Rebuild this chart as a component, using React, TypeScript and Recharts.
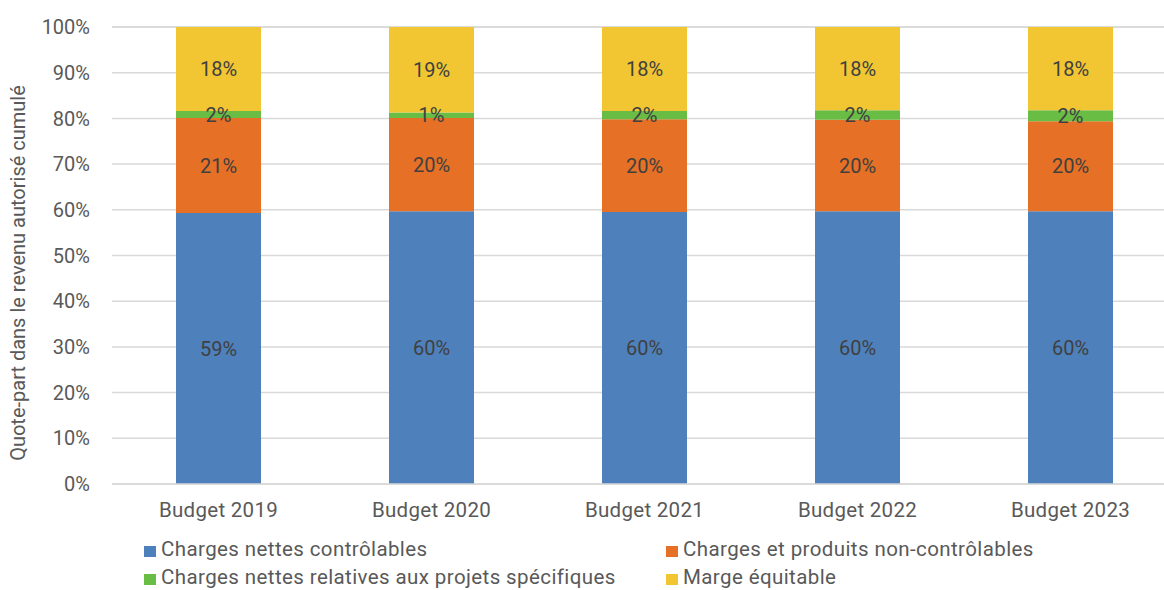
import React from 'react';
import { BarChart, Bar, XAxis, YAxis, CartesianGrid, Legend, LabelList } from 'recharts';

const categories = ['Budget 2019', 'Budget 2020', 'Budget 2021', 'Budget 2022', 'Budget 2023'];
const controlables = [59.3, 59.7, 59.5, 59.7, 59.7];
const nonControlables = [20.8, 20.4, 20.3, 20.0, 19.7];
const projets = [1.5, 1.2, 1.8, 2.1, 2.4];
const marge = [18.4, 18.7, 18.4, 18.2, 18.2];
const yTicks = [0, 10, 20, 30, 40, 50, 60, 70, 80, 90, 100];

const series = [
  { key: 'controlables', name: 'Charges nettes contrôlables', color: '#4e80bc' },
  { key: 'nonControlables', name: 'Charges et produits non-contrôlables', color: '#e57026' },
  { key: 'projets', name: 'Charges nettes relatives aux projets spécifiques', color: '#69bd45' },
  { key: 'marge', name: 'Marge équitable', color: '#f1c632' },
];

const data = categories.map((c, i) => ({
  category: c,
  controlables: controlables[i],
  nonControlables: nonControlables[i],
  projets: projets[i],
  marge: marge[i],
}));

const FONT = 'Roboto, sans-serif';
const TEXT = '#595959';

const XTick = (props: any) => {
  const { x, y, payload } = props;
  return (
    <text x={x} y={y + 33} textAnchor="middle" fill={TEXT} fontSize={20.5} letterSpacing={0.3} fontFamily={FONT}>
      {payload.value}
    </text>
  );
};

const renderLegend = () => {
  const pos = [
    { left: 144, top: 13 },
    { left: 666, top: 13 },
    { left: 144, top: 41 },
    { left: 666, top: 41 },
  ];
  return (
    <div style={{ position: 'relative', width: 1164, height: 66, fontFamily: FONT }}>
      {series.map((s, i) => (
        <div
          key={s.key}
          style={{
            position: 'absolute',
            left: pos[i].left,
            top: pos[i].top,
            display: 'flex',
            alignItems: 'center',
            height: 24,
            whiteSpace: 'nowrap',
          }}
        >
          <span style={{ display: 'inline-block', width: 12, height: 11, background: s.color, marginRight: 5, marginTop: 4 }} />
          <span style={{ fontSize: 20.5, letterSpacing: 0.4, color: TEXT, lineHeight: '24px' }}>{s.name}</span>
        </div>
      ))}
    </div>
  );
};

const YTitle = () => {
  const cx = 25;
  const cy = 273;
  return (
    <text
      x={cx}
      y={cy}
      transform={`rotate(-90, ${cx}, ${cy})`}
      textAnchor="middle"
      fill={TEXT}
      fontSize={20}
      fontFamily={FONT}
    >
      Quote-part dans le revenu autorisé cumulé
    </text>
  );
};

export default function App() {
  return (
    <div style={{ position: 'absolute', left: 0, top: 0, width: 1164, height: 590, overflow: 'hidden', background: '#fff' }}>
      <BarChart
        width={1180}
        height={590}
        data={data}
        margin={{ top: 27, right: 3, left: 0, bottom: 0 }}
        barSize={85}
      >
        <CartesianGrid vertical={false} stroke="#d9d9d9" strokeWidth={1.5} />
        <XAxis
          dataKey="category"
          tick={<XTick />}
          tickLine={false}
          tickSize={0}
          tickMargin={0}
          axisLine={{ stroke: '#d9d9d9', strokeWidth: 1.5 }}
          height={40}
          interval={0}
        />
        <YAxis
          width={112}
          domain={[0, 100]}
          ticks={yTicks}
          tickFormatter={(v: number) => `${v}%`}
          tick={{ fill: TEXT, fontSize: 20, fontFamily: FONT }}
          tickLine={false}
          tickSize={0}
          tickMargin={22}
          axisLine={false}
          label={{ content: () => <YTitle /> }}
        />
        <Legend verticalAlign="bottom" height={66} content={renderLegend} wrapperStyle={{ left: 0, width: 1164 }} />
        {series.map((s) => (
          <Bar key={s.key} dataKey={s.key} name={s.name} stackId="a" fill={s.color} isAnimationActive={false}>
            <LabelList
              dataKey={s.key}
              position="center"
              formatter={(v: any) => `${Math.round(Number(v))}%`}
              fill="#404040"
              fontSize={20}
              fontFamily={FONT}
            />
          </Bar>
        ))}
      </BarChart>
    </div>
  );
}
